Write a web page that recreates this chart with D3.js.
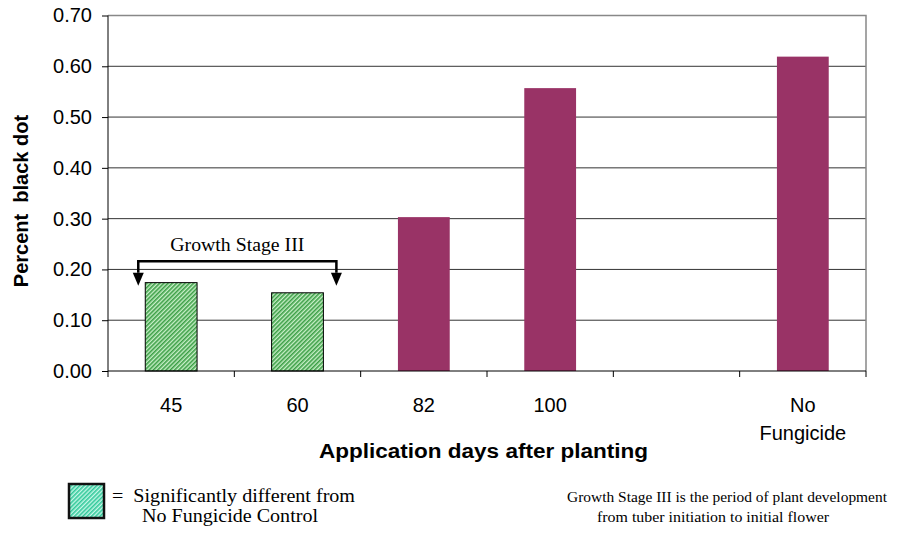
<!DOCTYPE html>
<meta charset="utf-8">
<style>
body { margin: 0; background: #fff; }
.axis text { font-family: Arial, "Liberation Sans", sans-serif; font-size: 20px; fill: #000; }
.axis path, .axis line { stroke: #000; }
.grid line { stroke: #333; }
.serif { font-family: "Times New Roman", "Liberation Serif", serif; font-size: 18px; fill: #000; }
</style>
<body>
<svg width="905" height="534"></svg>
<script src="https://cdn.jsdelivr.net/npm/d3@7"></script>
<script>

// chart data
var categories = ["45", "60", "82", "100", "", "No Fungicide"];
var values = [0.174, 0.154, 0.303, 0.557, null, 0.619];
var significant = [true, true, false, false, false, false];
var yTicks = [0, 0.1, 0.2, 0.3, 0.4, 0.5, 0.6, 0.7];

var svg = d3.select("svg"),
    margin = {top: 15.5, right: 39, bottom: 163, left: 108},
    width = svg.attr("width") - margin.left - margin.right,
    height = svg.attr("height") - margin.top - margin.bottom,
    g = svg.append("g").attr("transform", "translate(" + margin.left + "," + margin.top + ")");

var x = d3.scaleBand().domain(d3.range(categories.length)).range([0, width])
    .paddingInner(0.59).paddingOuter(0.295);
var y = d3.scaleLinear().domain([0, 0.7]).range([height, 0]);
var step = x.step();

// hatch patterns
var defs = svg.append("defs");
function hatch(id, bg, fg) {
  var p = defs.append("pattern").attr("id", id)
      .attr("patternUnits", "userSpaceOnUse")
      .attr("width", 3).attr("height", 3)
      .attr("patternTransform", "rotate(45)");
  p.append("rect").attr("width", 3).attr("height", 3).attr("fill", bg);
  p.append("rect").attr("width", 1.6).attr("height", 3).attr("fill", fg);
}
hatch("greenHatch", "#c9f0c9", "#3c9f46");
hatch("tealHatch", "#c6f7e8", "#33c99a");

// gridlines
g.append("g").attr("class", "grid")
  .selectAll("line").data(yTicks.slice(1, -1)).enter().append("line")
    .attr("x1", 0).attr("x2", width)
    .attr("y1", function(d) { return y(d); })
    .attr("y2", function(d) { return y(d); });

// top and right border
g.append("path")
  .attr("d", "M0," + y(0.7) + "H" + width + "V" + height)
  .attr("fill", "none").attr("stroke", "#888").attr("stroke-width", 1.5);

// bars
g.selectAll(".bar").data(values).enter()
  .filter(function(d) { return d != null; })
  .append("rect")
    .attr("class", "bar")
    .attr("x", function(d) { return x(values.indexOf(d)); })
    .attr("width", x.bandwidth())
    .attr("y", function(d) { return y(d); })
    .attr("height", function(d) { return height - y(d); })
    .attr("fill", function(d) { return significant[values.indexOf(d)] ? "url(#greenHatch)" : "#993366"; })
    .attr("stroke", function(d) { return significant[values.indexOf(d)] ? "#000" : "none"; })
    .attr("stroke-width", 1);

// y axis
g.append("g").attr("class", "axis")
    .call(d3.axisLeft(y).tickValues(yTicks).tickFormat(d3.format(".2f")).tickSize(6).tickPadding(10))
    .call(function(a) { a.select(".domain").attr("d", "M0," + height + "V" + y(0.7)); });

// x axis: ticks at category boundaries
var xa = g.append("g").attr("class", "axis").attr("transform", "translate(0," + height + ")");
xa.append("line").attr("x1", 0).attr("x2", width).attr("stroke", "#000");
xa.selectAll(".tk").data(d3.range(categories.length + 1)).enter().append("line")
    .attr("x1", function(i) { return i * step; })
    .attr("x2", function(i) { return i * step; })
    .attr("y1", 0).attr("y2", 6);
xa.selectAll(".lbl").data(categories).enter().append("text")
    .attr("text-anchor", "middle")
    .attr("transform", function(d, i) { return "translate(" + (x(i) + x.bandwidth() / 2) + ",41)"; })
    .each(function(d) {
      var t = d3.select(this);
      d.split(" ").forEach(function(w, k) {
        t.append("tspan").attr("x", 0).attr("dy", k ? 28 : 0).text(w);
      });
    });

// axis titles
svg.append("text")
    .attr("transform", "translate(28,201) rotate(-90)")
    .attr("text-anchor", "middle")
    .style("font", "bold 20px Arial, 'Liberation Sans', sans-serif")
    .attr("xml:space", "preserve")
    .text("Percent  black dot");

svg.append("text")
    .attr("x", 319).attr("y", 458)
    .attr("textLength", 329).attr("lengthAdjust", "spacingAndGlyphs")
    .style("font", "bold 20px Arial, 'Liberation Sans', sans-serif")
    .text("Application days after planting");

// growth stage bracket
var bx1 = x(0) - 7, bx2 = x(1) + x.bandwidth() + 13,
    by = y(0.216), bt = y(0.168);
var br = g.append("g");
br.append("path")
    .attr("d", "M" + bx1 + "," + (bt - 13) + "V" + by + "H" + bx2 + "V" + (bt - 13))
    .attr("fill", "none").attr("stroke", "#000").attr("stroke-width", 2.5);
[bx1, bx2].forEach(function(bx) {
  br.append("path")
    .attr("d", "M" + (bx - 5.5) + "," + (bt - 13) + "L" + (bx + 5.5) + "," + (bt - 13) + "L" + bx + "," + bt + "Z")
    .attr("fill", "#000");
});
br.append("text").attr("class", "serif")
    .attr("x", (bx1 + bx2) / 2 - 67).attr("y", by - 10)
    .attr("textLength", 134).attr("lengthAdjust", "spacingAndGlyphs")
    .text("Growth Stage III");

// legend
svg.append("rect")
    .attr("x", 69).attr("y", 484).attr("width", 35).attr("height", 34)
    .attr("fill", "url(#tealHatch)").attr("stroke", "#111").attr("stroke-width", 2.5);
svg.append("text").attr("class", "serif").attr("x", 112).attr("y", 502)
    .attr("textLength", 243).attr("lengthAdjust", "spacingAndGlyphs")
    .attr("xml:space", "preserve")
    .text("=  Significantly different from");
svg.append("text").attr("class", "serif").attr("x", 142).attr("y", 522)
    .attr("textLength", 176).attr("lengthAdjust", "spacingAndGlyphs")
    .text("No Fungicide Control");

svg.append("text").attr("class", "serif").attr("x", 567).attr("y", 502)
    .style("font-size", "15.5px")
    .attr("textLength", 320).attr("lengthAdjust", "spacingAndGlyphs")
    .text("Growth Stage III is the period of plant development");
svg.append("text").attr("class", "serif").attr("x", 597).attr("y", 522)
    .style("font-size", "15.5px")
    .attr("textLength", 232).attr("lengthAdjust", "spacingAndGlyphs")
    .text("from tuber initiation to initial flower");

</script>
</body>
